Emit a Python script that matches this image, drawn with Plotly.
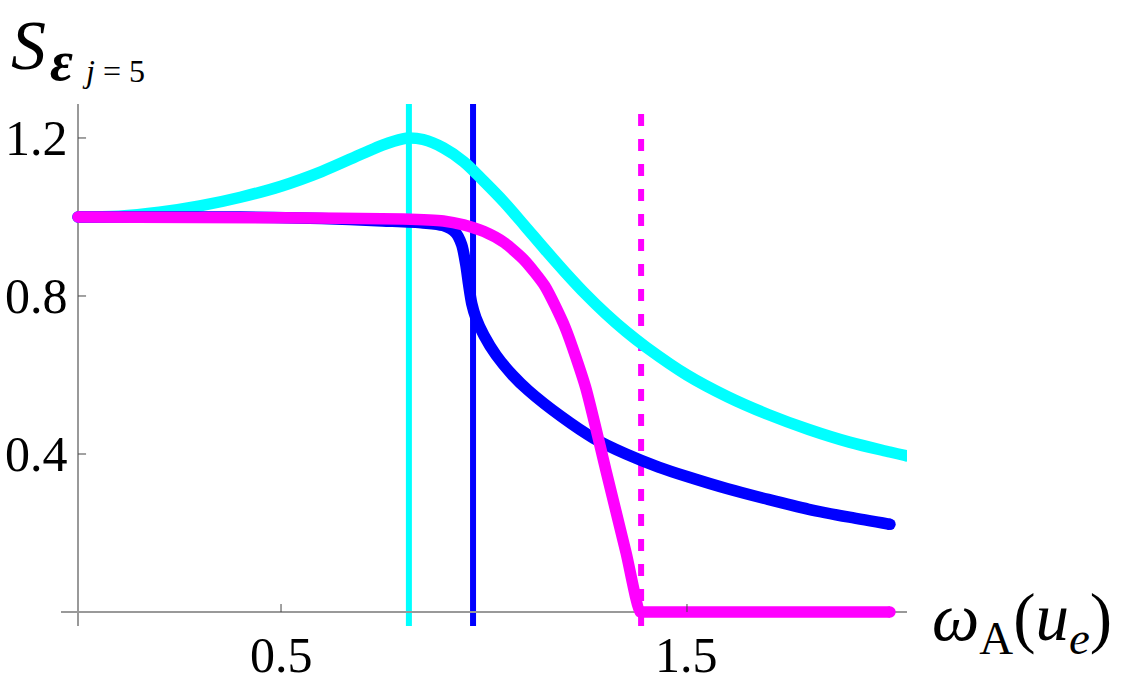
import plotly.graph_objects as go

# ---------------- data ----------------
cyan_x = [0.0, 0.1, 0.2, 0.3, 0.4, 0.5, 0.6, 0.7, 0.75, 0.8, 0.815, 0.85, 0.9, 0.95, 1.0,
          1.05, 1.1, 1.15, 1.2, 1.25, 1.3, 1.35, 1.4, 1.5, 1.6, 1.7, 1.8, 1.9, 2.0, 2.042]
cyan_y = [1.0, 1.002, 1.012, 1.028, 1.05, 1.078, 1.115, 1.16, 1.182, 1.198, 1.2, 1.196, 1.175,
          1.14, 1.09, 1.037, 0.978, 0.918, 0.86, 0.805, 0.755, 0.71, 0.67, 0.6, 0.545, 0.5,
          0.462, 0.43, 0.405, 0.395]

blue_x = [0.0, 0.4, 0.6, 0.75, 0.85, 0.9, 0.93, 0.945, 0.955, 0.962, 0.97, 0.98, 1.0, 1.03,
          1.07, 1.11, 1.19, 1.27, 1.35, 1.43, 1.5, 1.6, 1.7, 1.8, 1.9, 2.0]
blue_y = [1.0, 1.0, 0.996, 0.99, 0.985, 0.978, 0.96, 0.93, 0.88, 0.83, 0.78, 0.745, 0.7, 0.65,
          0.6, 0.56, 0.495, 0.44, 0.4, 0.367, 0.343, 0.312, 0.285, 0.26, 0.24, 0.222]

mag_x = [0.0, 0.5, 0.8, 0.9, 0.95, 1.0, 1.05, 1.1, 1.15, 1.2, 1.25, 1.3, 1.35, 1.385,
         1.395, 1.5, 1.75, 2.0]
mag_y = [1.0, 0.998, 0.995, 0.99, 0.98, 0.963, 0.935, 0.89, 0.825, 0.72, 0.57, 0.36, 0.15, 0.0,
         0.0, 0.0, 0.0, 0.0]

vline_x = [0.815, 0.973, 1.387]
vline_colors = ["#00FFFF", "#0000FF", "#FF00FF"]
vline_dash = ["solid", "solid", "12px,13px"]

x_ticks = [0.5, 1.5]
x_tick_text = ["0.5", "1.5"]
y_ticks = [0.4, 0.8, 1.2]
y_tick_text = ["0.4", "0.8", "1.2"]

CYAN, BLUE, MAG = "#00FFFF", "#0000FF", "#FF00FF"
SERIF = "Liberation Serif"

# ---------------- layout geometry ----------------
W, H = 1125, 690
L, R, T, B = 61, 218, 104, 64
XR = [-0.042, 2.042]
YR = [-0.0354, 1.286]
plot_w = W - L - R
plot_h = H - T - B


def px_x(p):
    return (p - L) / plot_w


def px_y(p):
    return (H - B - p) / plot_h


fig = go.Figure()
LW = 11.5
for xs, ys, col, sm in [(cyan_x, cyan_y, CYAN, 1.0), (blue_x, blue_y, BLUE, 0.8),
                        (mag_x, mag_y, MAG, 0.6)]:
    fig.add_trace(go.Scatter(x=xs, y=ys, mode="lines",
                             line=dict(color=col, width=LW, shape="spline", smoothing=sm),
                             hoverinfo="skip", showlegend=False))
    # round end caps
    fig.add_trace(go.Scatter(x=[xs[0], xs[-1]], y=[ys[0], ys[-1]], mode="markers",
                             marker=dict(color=col, size=LW, line=dict(width=0)),
                             cliponaxis=True, hoverinfo="skip", showlegend=False))

shapes = []
for vx, col, dash in zip(vline_x, vline_colors, vline_dash):
    y1 = 1.0 if dash == "solid" else px_y(114)
    shapes.append(dict(type="line", xref="x", yref="paper", x0=vx, x1=vx, y0=0, y1=y1,
                       line=dict(color=col, width=6, dash=dash), layer="between"))
tick_len_x = 8 / plot_w * (XR[1] - XR[0])
tick_len_y = 8 / plot_h * (YR[1] - YR[0])
for t in x_ticks:
    shapes.append(dict(type="line", xref="x", yref="y", x0=t, x1=t, y0=0, y1=tick_len_y,
                       line=dict(color="#444", width=1), layer="above"))
for t in y_ticks:
    shapes.append(dict(type="line", xref="x", yref="y", x0=0, x1=tick_len_x, y0=t, y1=t,
                       line=dict(color="#444", width=1), layer="above"))

annotations = []
for t, s in zip(y_ticks, y_tick_text):
    annotations.append(dict(x=0, y=t, xref="x", yref="y", text=s, showarrow=False,
                            xanchor="right", yanchor="middle", xshift=-8,
                            font=dict(family=SERIF, size=50, color="black")))
for t, s in zip(x_ticks, x_tick_text):
    annotations.append(dict(x=t, y=0, xref="x", yref="y", text=s, showarrow=False,
                            xanchor="center", yanchor="middle", yshift=-43,
                            font=dict(family=SERIF, size=50, color="black")))

# axis titles
annotations.append(dict(x=px_x(9), y=px_y(46), xref="paper", yref="paper",
                        text="<i>S</i>", showarrow=False, xanchor="left", yanchor="middle",
                        font=dict(family=SERIF, size=70, color="black")))
annotations.append(dict(x=px_x(48), y=px_y(61), xref="paper", yref="paper",
                        text="<b><i>ε</i></b>", showarrow=False, xanchor="left", yanchor="middle",
                        font=dict(family=SERIF, size=56, color="black")))
annotations.append(dict(x=px_x(80), y=px_y(71), xref="paper", yref="paper",
                        text="<i>j</i> = 5", showarrow=False, xanchor="left", yanchor="middle",
                        font=dict(family=SERIF, size=32, color="black")))
annotations.append(dict(x=px_x(930), y=px_y(622), xref="paper", yref="paper",
                        text="<i>ω</i><sub>A</sub>(<i>u</i><sub><i>e</i></sub>)",
                        showarrow=False, xanchor="left", yanchor="middle",
                        font=dict(family=SERIF, size=67, color="black")))

axis_common = dict(showgrid=False, zeroline=True, zerolinecolor="#999999", zerolinewidth=2,
                   showticklabels=False, ticks="", showline=False, fixedrange=True)
fig.update_layout(
    width=W, height=H, autosize=False,
    margin=dict(l=L, r=R, t=T, b=B, pad=0),
    paper_bgcolor="white", plot_bgcolor="white",
    xaxis=dict(range=XR, **axis_common),
    yaxis=dict(range=YR, **axis_common),
    shapes=shapes, annotations=annotations, showlegend=False,
)

fig.write_html("out.html")
